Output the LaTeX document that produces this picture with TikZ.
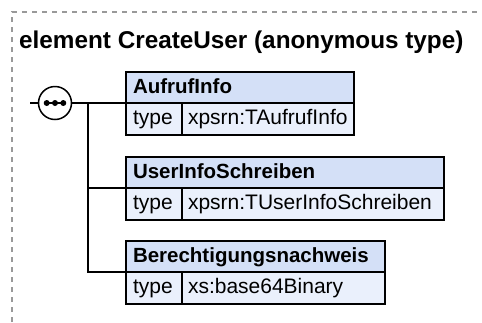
\documentclass[tikz,border=0pt]{standalone}
\usepackage{fontspec}
\setmainfont{Liberation Sans}
\definecolor{headblue}{HTML}{D4E0F7}
\definecolor{rowblue}{HTML}{EAF0FC}
\definecolor{framegray}{HTML}{999999}
\tikzset{
  elemhead/.style={draw, line width=1.5pt, fill=headblue, anchor=north west,
    outer sep=0pt, inner xsep=7pt, minimum height=31pt, text height=15pt,
    text depth=4pt, align=left, font=\fontsize{20.5}{24}\selectfont\bfseries},
  elemcell/.style={draw, line width=1.5pt, fill=rowblue, anchor=north west,
    outer sep=0pt, minimum height=32pt, text height=15pt, text depth=4pt,
    align=left, font=\fontsize{21}{25}\selectfont},
  conn/.style={line width=1.5pt}
}
\begin{document}
\begin{tikzpicture}[x=1pt,y=-1pt]
  \useasboundingbox (0,0) rectangle (482,322);
  \draw[framegray, line width=1.2pt, dash pattern=on 5pt off 5pt] (12,322) -- (12,12) -- (482,12);
  \node[anchor=base west, inner sep=0pt, font=\fontsize{24.3}{28}\selectfont\bfseries] (title) at (19,48) {element CreateUser (anonymous type)};
  % the three child elements
  \foreach \nm/\ytop/\bw/\hd/\tp in {aufruf/72/228/AufrufInfo/xpsrn:TAufrufInfo,
      userinfo/157/318/UserInfoSchreiben/xpsrn:TUserInfoSchreiben,
      berecht/241/259/Berechtigungsnachweis/xs:base64Binary} {
    \pgfmathsetmacro\hw{\bw-14}
    \pgfmathsetmacro\vw{\bw-56-12}
    \node[elemhead, text width=\hw pt] (\nm) at (126,\ytop) {\hd};
    \node[elemcell, inner xsep=7pt, text width=42pt] (\nm type) at (\nm.south west) {type};
    \node[elemcell, inner xsep=6pt, text width=\vw pt] (\nm val) at (\nm type.north east) {\tp};
  }
  % sequence compositor
  \node[draw, circle, line width=1.5pt, minimum size=33pt, inner sep=0pt] (seq) at (55,103) {};
  \draw[conn] ([xshift=-8.3pt]seq.center) -- ([xshift=8.3pt]seq.center);
  \foreach \dx in {-8.3,0,8.3}
    \fill ([xshift=\dx pt]seq.center) circle (3pt);
  \coordinate (in) at (30,103);
  \coordinate (fork) at (88,103);
  \draw[conn] (in) -- (seq.west);
  \draw[conn] (seq.east) -- (aufruf.south west);
  \draw[conn] (fork) |- (userinfo.south west);
  \draw[conn] (fork) |- (berecht.south west);
\end{tikzpicture}
\end{document}
